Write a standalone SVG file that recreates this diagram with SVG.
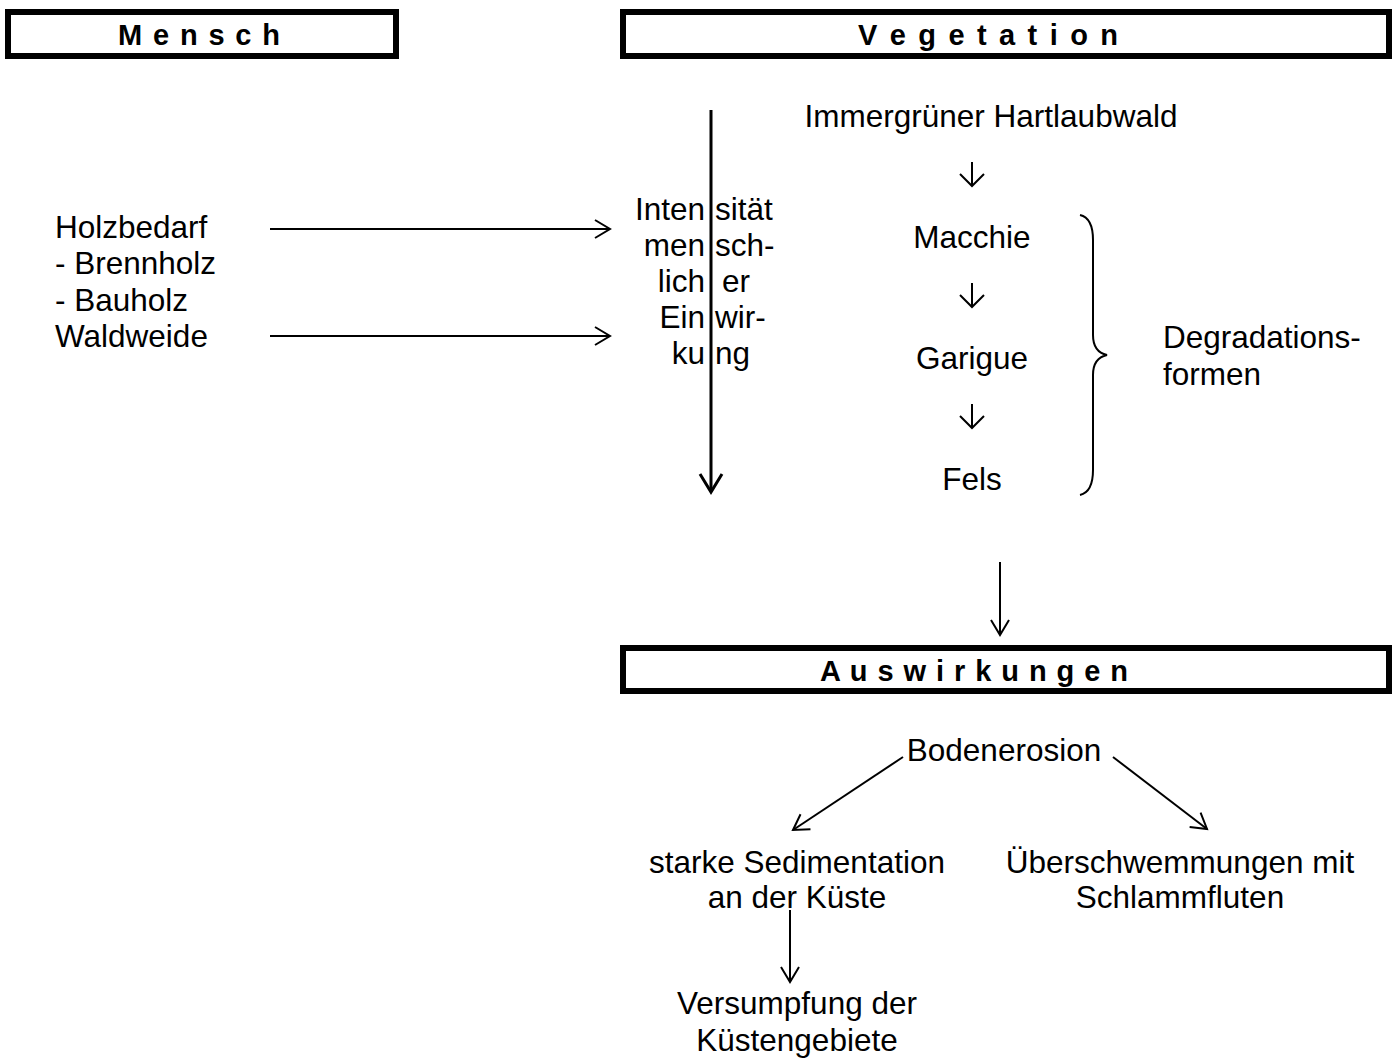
<svg xmlns="http://www.w3.org/2000/svg" width="1397" height="1060" viewBox="0 0 1397 1060">
<style>
.hdr{fill:#fff;stroke:#000;stroke-width:6}
.ht{font-family:"Liberation Sans",Arial,sans-serif;font-weight:bold;font-size:29px;fill:#000}
.t{font-family:"Liberation Sans",Arial,sans-serif;font-size:31.5px;fill:#000}
.c{text-anchor:middle}
.ln{stroke:#000;stroke-width:2;fill:none}
</style>
<defs>
<marker id="ah" markerUnits="userSpaceOnUse" markerWidth="24" markerHeight="24" refX="20" refY="12" orient="auto">
<path d="M5,3 L20,12 L5,21" fill="none" stroke="#000" stroke-width="2"/>
</marker>
<marker id="ahs" markerUnits="userSpaceOnUse" markerWidth="26" markerHeight="26" refX="20" refY="13" orient="auto">
<path d="M8,1 L20,13 L8,25" fill="none" stroke="#000" stroke-width="2"/>
</marker>
<marker id="ahb" markerUnits="userSpaceOnUse" markerWidth="28" markerHeight="28" refX="23" refY="14" orient="auto">
<path d="M5,3 L23,14 L5,25" fill="none" stroke="#000" stroke-width="3"/>
</marker>
</defs>
<rect width="1397" height="1060" fill="#fff"/>
<g id="mensch">
<rect class="hdr" x="8" y="12" width="388" height="44"/>
<text class="ht" x="118" y="45" textLength="162" lengthAdjust="spacing">M e n s c h</text>
</g>
<g id="vegetation">
<rect class="hdr" x="623" y="12" width="766" height="44"/>
<text class="ht" x="858" y="45" textLength="260" lengthAdjust="spacing">V e g e t a t i o n</text>
</g>
<g id="auswirkungen">
<rect class="hdr" x="623" y="648" width="766" height="43"/>
<text class="ht" x="820" y="681" textLength="308" lengthAdjust="spacing">A u s w i r k u n g e n</text>
</g>
<g id="holzbedarf">
<text class="t" x="55" y="238">Holzbedarf</text>
<text class="t" x="55" y="274">- Brennholz</text>
<text class="t" x="55" y="311">- Bauholz</text>
<text class="t" x="55" y="347">Waldweide</text>
</g>
<g id="intensitaet">
<text class="t" x="705" y="220" text-anchor="end">Inten</text><text class="t" x="715" y="220">sität</text>
<text class="t" x="705" y="256" text-anchor="end">men</text><text class="t" x="715" y="256">sch-</text>
<text class="t" x="705" y="292" text-anchor="end">lich</text><text class="t" x="722" y="292">er</text>
<text class="t" x="705" y="328" text-anchor="end">Ein</text><text class="t" x="715" y="328">wir-</text>
<text class="t" x="705" y="364" text-anchor="end">ku</text><text class="t" x="715" y="364">ng</text>
</g>
<g id="hartlaubwald"><text class="t c" x="991" y="127">Immergrüner Hartlaubwald</text></g>
<g id="macchie"><text class="t c" x="972" y="248">Macchie</text></g>
<g id="garigue"><text class="t c" x="972" y="369">Garigue</text></g>
<g id="fels"><text class="t c" x="972" y="490">Fels</text></g>
<g id="degradation">
<path class="ln" d="M1080,215 Q1093,218 1093,240 L1093,335 Q1093,352 1107,355 Q1093,358 1093,375 L1093,470 Q1093,492 1080,495"/>
<text class="t" x="1163" y="348">Degradations-</text>
<text class="t" x="1163" y="385">formen</text>
</g>
<g id="bodenerosion"><text class="t c" x="1004" y="761">Bodenerosion</text></g>
<g id="sedimentation">
<text class="t c" x="797" y="873">starke Sedimentation</text>
<text class="t c" x="797" y="908">an der Küste</text>
</g>
<g id="ueberschwemmungen">
<text class="t c" x="1180" y="873">Überschwemmungen mit</text>
<text class="t c" x="1180" y="908">Schlammfluten</text>
</g>
<g id="versumpfung">
<text class="t c" x="797" y="1014">Versumpfung der</text>
<text class="t c" x="797" y="1051">Küstengebiete</text>
</g>
<g id="connectors">
<line class="ln" x1="270" y1="229" x2="610" y2="229" marker-end="url(#ah)"/>
<line class="ln" x1="270" y1="336" x2="610" y2="336" marker-end="url(#ah)"/>
<line x1="711" y1="110" x2="711" y2="492" stroke="#000" stroke-width="3" marker-end="url(#ahb)"/>
<line class="ln" x1="972" y1="162" x2="972" y2="186" marker-end="url(#ahs)"/>
<line class="ln" x1="972" y1="283" x2="972" y2="307" marker-end="url(#ahs)"/>
<line class="ln" x1="972" y1="404" x2="972" y2="428" marker-end="url(#ahs)"/>
<line class="ln" x1="1000" y1="562" x2="1000" y2="635" marker-end="url(#ah)"/>
<line class="ln" x1="903" y1="757" x2="793" y2="830" marker-end="url(#ah)"/>
<line class="ln" x1="1113" y1="757" x2="1207" y2="829" marker-end="url(#ah)"/>
<line class="ln" x1="790" y1="910" x2="790" y2="982" marker-end="url(#ah)"/>
</g>
</svg>
